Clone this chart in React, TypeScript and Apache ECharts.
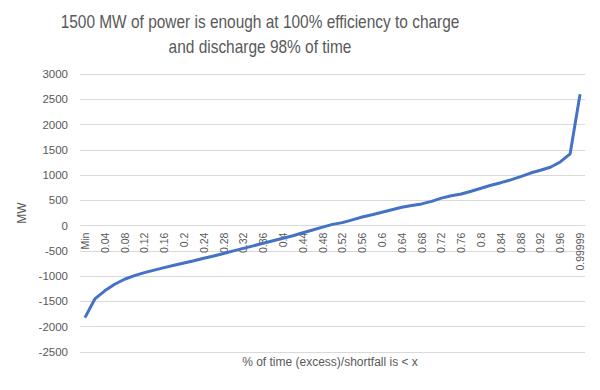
import React, { useEffect, useRef } from "react";
import * as echarts from "echarts";

const titleLines = [
  "1500 MW of power is enough at 100% efficiency to charge",
  "and discharge 98% of time",
];
const yAxisName = "MW";
const xAxisName = "% of time (excess)/shortfall is < x";

const categories = [
  "Min", "0.02", "0.04", "0.06", "0.08", "0.1", "0.12", "0.14", "0.16", "0.18",
  "0.2", "0.22", "0.24", "0.26", "0.28", "0.3", "0.32", "0.34", "0.36", "0.38",
  "0.4", "0.42", "0.44", "0.46", "0.48", "0.5", "0.52", "0.54", "0.56", "0.58",
  "0.6", "0.62", "0.64", "0.66", "0.68", "0.7", "0.72", "0.74", "0.76", "0.78",
  "0.8", "0.82", "0.84", "0.86", "0.88", "0.9", "0.92", "0.94", "0.96", "0.98",
  "0.99999",
];

const mwValues = [
  -1820, -1450, -1290, -1160, -1060, -990, -930, -880, -830, -785,
  -740, -695, -645, -600, -550, -500, -450, -400, -350, -300,
  -250, -200, -140, -85, -30, 25, 60, 115, 170, 215,
  265, 315, 365, 400, 430, 480, 545, 590, 625, 680,
  740, 800, 850, 905, 970, 1040, 1095, 1155, 1260, 1420,
  2600,
];

const yMin = -2500;
const yMax = 3000;
const yStep = 500;

export default function App() {
  const ref = useRef<HTMLDivElement>(null);
  useEffect(() => {
    if (!ref.current) return;
    const chart = echarts.init(ref.current, undefined, { renderer: "svg" });
    const font = "Liberation Sans";
    const gridTop = 74;
    const gridBottom = 38;
    const plotH = 390 - gridTop - gridBottom;
    const zeroOffset = -(plotH * (0 - yMin)) / (yMax - yMin);
    const titleStyle = {
      fontFamily: font,
      fontSize: 18.5,
      fill: "#595959",
      textAlign: "center",
      textVerticalAlign: "middle",
    };
    chart.setOption({
      animation: false,
      backgroundColor: "#ffffff",
      graphic: [
        {
          type: "text",
          x: 260,
          y: 22,
          scaleX: 0.835,
          style: { ...titleStyle, text: titleLines[0] },
        },
        {
          type: "text",
          x: 260,
          y: 47,
          scaleX: 0.835,
          style: { ...titleStyle, text: titleLines[1] },
        },
        {
          type: "text",
          x: 330,
          y: 362,
          style: {
            text: xAxisName,
            fontFamily: font,
            fontSize: 12,
            fill: "#595959",
            textAlign: "center",
            textVerticalAlign: "middle",
          },
        },
      ],
      grid: { left: 80, right: 15, top: gridTop, bottom: gridBottom },
      xAxis: {
        type: "category",
        data: categories,
        boundaryGap: true,
        position: "bottom",
        offset: zeroOffset,
        axisLine: { onZero: false, lineStyle: { color: "#d9d9d9", width: 1 } },
        axisTick: { show: false },
        axisLabel: {
          rotate: 90,
          interval: 1,
          fontFamily: font,
          fontSize: 10.5,
          color: "#595959",
          margin: 7,
        },
      },
      yAxis: {
        type: "value",
        min: yMin,
        max: yMax,
        interval: yStep,
        name: yAxisName,
        nameLocation: "middle",
        nameGap: 42,
        nameTextStyle: { fontFamily: font, fontSize: 12, color: "#595959" },
        axisLine: { show: false },
        axisTick: { show: false },
        axisLabel: {
          fontFamily: font,
          fontSize: 11.5,
          color: "#595959",
          margin: 12,
          formatter: (v: number) => String(v),
        },
        splitLine: { lineStyle: { color: "#d9d9d9", width: 1 } },
      },
      series: [
        {
          type: "line",
          data: mwValues,
          showSymbol: false,
          symbol: "none",
          lineStyle: { color: "#4472C4", width: 3 },
        },
      ],
    });
    return () => chart.dispose();
  }, []);
  return <div ref={ref} style={{ width: 600, height: 390, margin: -8 }} />;
}
